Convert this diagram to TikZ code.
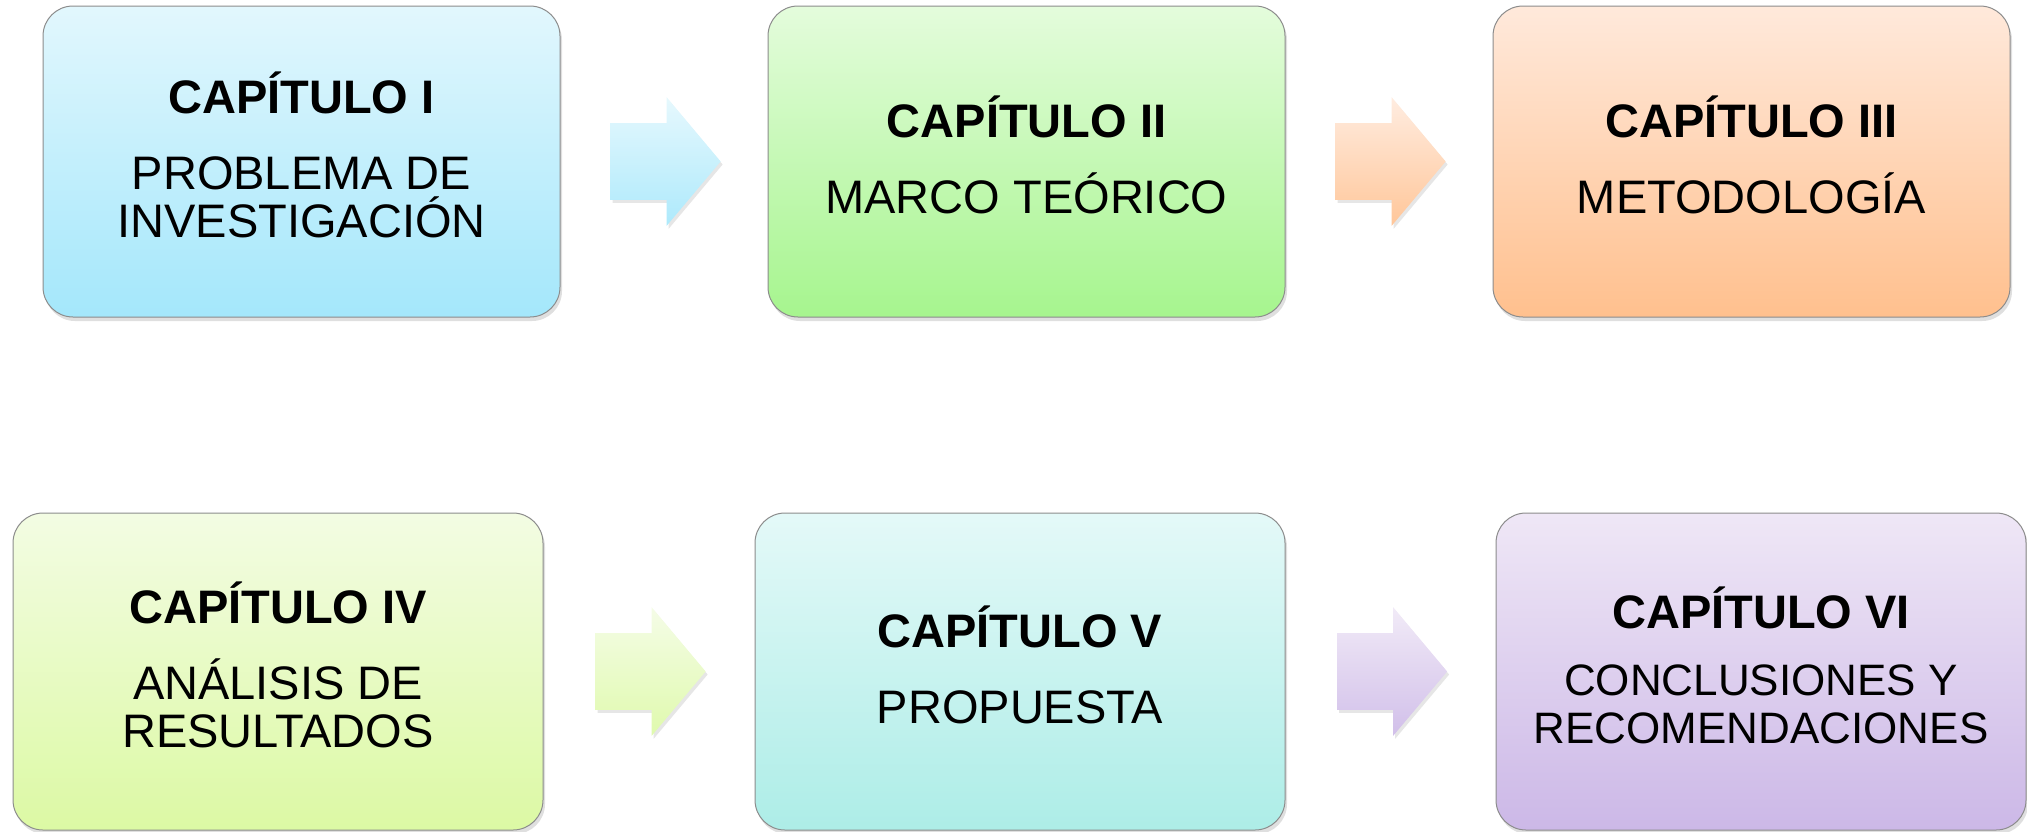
\documentclass[tikz,border=0pt]{standalone}
\usepackage{fontspec}
\setmainfont{Liberation Sans}
\usepackage{tikz}
\usetikzlibrary{calc,positioning,shapes.arrows,shadows}

\definecolor{azulA}{HTML}{E2F7FD}\definecolor{azulB}{HTML}{A4E7FB}
\definecolor{verdeA}{HTML}{E4FCDC}\definecolor{verdeB}{HTML}{A6F58E}
\definecolor{narA}{HTML}{FFE9DB}\definecolor{narB}{HTML}{FFC08E}
\definecolor{limaA}{HTML}{F3FCE3}\definecolor{limaB}{HTML}{DCF9A4}
\definecolor{aguaA}{HTML}{E4F9F8}\definecolor{aguaB}{HTML}{ADEDE7}
\definecolor{lilaA}{HTML}{EFE7F6}\definecolor{lilaB}{HTML}{CCB8E7}

\begin{document}
\begin{tikzpicture}[
	x=0.5pt, y=-0.5pt,
	caja/.style 2 args={
		rectangle, rounded corners=15pt,
		draw=black!45, line width=0.5pt,
		top color=#1, bottom color=#2,
		minimum width=258.5pt, minimum height=155.5pt,
		inner sep=0pt, align=center, text=black,
		font=\fontsize{23.5}{24}\selectfont,
		execute at end node={\rule[-6.5pt]{0pt}{0pt}},
		drop shadow={shadow xshift=1pt, shadow yshift=-2pt, opacity=0.25}
	},
	cajab/.style={minimum width=265pt, minimum height=158.5pt},
	flecha/.style 2 args={
		single arrow, draw=none,
		top color=#1, bottom color=#2,
		minimum height=55pt, inner xsep=0pt, inner ysep=19pt,
		single arrow head extend=13pt, single arrow tip angle=100,
		drop shadow={shadow xshift=1pt, shadow yshift=-1.5pt, opacity=0.2}
	}
	]
	\useasboundingbox (0,0) rectangle (2027,831);
	% primera fila
	\node[caja={azulA}{azulB}] (c1) at (301.5,161.5)
		{\textbf{CAPÍTULO I}\\[14pt]PROBLEMA DE\\INVESTIGACIÓN};
	\node[caja={verdeA}{verdeB}, right=103.5pt of c1] (c2)
		{\textbf{CAPÍTULO II}\\[14pt]MARCO TEÓRICO};
	\node[caja={narA}{narB}, right=103.5pt of c2] (c3)
		{\textbf{CAPÍTULO III}\\[14pt]METODOLOGÍA};
	% segunda fila
	\node[caja={limaA}{limaB}, cajab] (c4) at (278,671.5)
		{\textbf{CAPÍTULO IV}\\[14pt]ANÁLISIS DE\\RESULTADOS};
	\node[caja={aguaA}{aguaB}, cajab, right=105.5pt of c4] (c5)
		{\textbf{CAPÍTULO V}\\[14pt]PROPUESTA};
	\node[caja={lilaA}{lilaB}, cajab, right=105pt of c5] (c6)
		{\textbf{CAPÍTULO VI}\\[9.5pt]{\fontsize{22}{24}\selectfont CONCLUSIONES Y}\\{\fontsize{22}{24}\selectfont RECOMENDACIONES}};
	% flechas
	\foreach \a/\b/\ca/\cb in {c1/c2/azulA/azulB, c2/c3/narA/narB,
		c4/c5/limaA/limaB, c5/c6/lilaA/lilaB}
	{
		\node[flecha={\ca!85!white}{\cb!90!white}] (f\a\b)
			at ($(\a.east)!0.5!(\b.west) + (-14.5,0)$) {};
	}
\end{tikzpicture}
\end{document}
